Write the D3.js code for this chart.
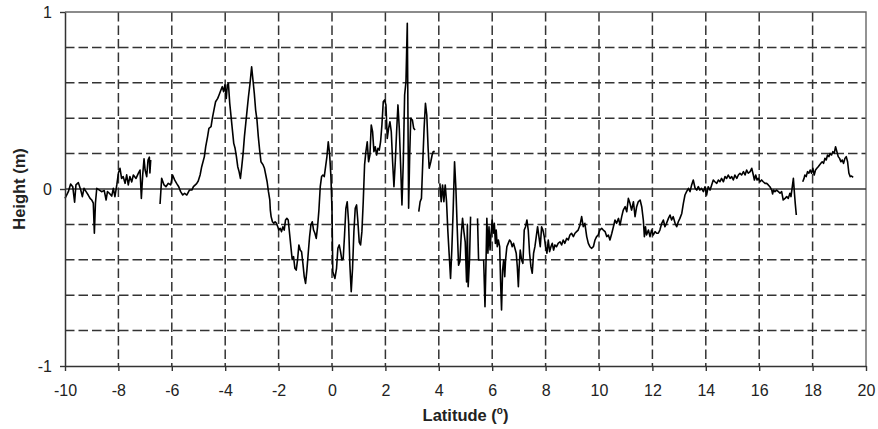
<!DOCTYPE html>
<html><head><meta charset="utf-8">
<script src="https://cdn.jsdelivr.net/npm/d3@7"></script>
<style>
body{margin:0;background:#fff;}
svg{display:block;}
text{font-family:Arial,"Liberation Sans",sans-serif;}
</style>
</head><body>
<svg id="chart" width="878" height="429"></svg>
<script>
// ---- data: [latitude (deg), height (m)] per continuous segment ----
const segA = [[-10.00,-0.053],[-9.875,-0.015],[-9.79,0.028],[-9.71,0.013],[-9.64,-0.075],[-9.59,0.023],[-9.50,0.036],[-9.41,-0.006],[-9.35,-0.043],[-9.29,0.004],[-9.21,-0.015],[-9.13,-0.034],[-9.06,-0.053],[-9.00,-0.062],[-8.94,-0.08],[-8.90,-0.25],[-8.86,-0.08],[-8.81,0.004],[-8.71,-0.006],[-8.63,-0.015],[-8.53,-0.009],[-8.46,-0.062],[-8.41,-0.015],[-8.34,-0.024],[-8.25,-0.04],[-8.19,0.004],[-8.13,-0.043],[-8.06,0.023],[-8.00,0.09],[-7.94,0.117],[-7.88,0.06],[-7.82,0.07],[-7.75,0.032],[-7.69,0.08],[-7.63,0.023],[-7.57,0.07],[-7.50,0.04],[-7.44,0.079],[-7.34,0.06],[-7.25,0.09],[-7.19,0.107],[-7.14,-0.053],[-7.09,0.079],[-7.04,0.17],[-7.00,0.107],[-6.94,0.07],[-6.89,0.164],[-6.84,0.18],[-6.82,0.09],[-6.79,0.164]];

const segB = [[-6.44,-0.085],[-6.38,0.06],[-6.29,0.023],[-6.22,0.013],[-6.13,0.032],[-6.04,0.023],[-5.97,0.079],[-5.89,0.05],[-5.82,0.032],[-5.74,0.013],[-5.67,-0.015],[-5.59,-0.034],[-5.52,-0.024],[-5.44,-0.034],[-5.34,-0.006],[-5.25,-0.006],[-5.19,0.013],[-5.07,0.03],[-5.01,0.045],[-4.94,0.079],[-4.88,0.126],[-4.78,0.183],[-4.73,0.239],[-4.66,0.296],[-4.61,0.343],[-4.53,0.352],[-4.48,0.40],[-4.41,0.456],[-4.36,0.493],[-4.28,0.512],[-4.23,0.531],[-4.16,0.559],[-4.11,0.578],[-4.06,0.55],[-4.01,0.588],[-3.96,0.512],[-3.92,0.588],[-3.88,0.597],[-3.83,0.484],[-3.78,0.409],[-3.73,0.333],[-3.68,0.258],[-3.63,0.23],[-3.58,0.183],[-3.53,0.126],[-3.48,0.098],[-3.43,0.06],[-3.38,0.126],[-3.33,0.20],[-3.28,0.296],[-3.23,0.371],[-3.18,0.446],[-3.13,0.52],[-3.07,0.597],[-3.01,0.69],[-2.96,0.616],[-2.91,0.54],[-2.86,0.446],[-2.81,0.39],[-2.76,0.296],[-2.71,0.22],[-2.66,0.154],[-2.58,0.136],[-2.53,0.117],[-2.48,0.079],[-2.43,0.041],[-2.38,-0.015],[-2.33,-0.062],[-2.31,-0.119],[-2.28,-0.156],[-2.23,-0.185],[-2.18,-0.194],[-2.13,-0.185],[-2.08,-0.194],[-2.03,-0.213],[-1.99,-0.232],[-1.94,-0.222],[-1.89,-0.241],[-1.84,-0.213],[-1.79,-0.232],[-1.74,-0.175],[-1.69,-0.166],[-1.64,-0.175],[-1.59,-0.25],[-1.54,-0.326],[-1.49,-0.40],[-1.44,-0.382],[-1.39,-0.448],[-1.34,-0.458],[-1.29,-0.40],[-1.24,-0.316],[-1.19,-0.345],[-1.14,-0.354],[-1.09,-0.42],[-1.04,-0.495],[-0.99,-0.533],[-0.94,-0.458],[-0.89,-0.363],[-0.84,-0.27],[-0.79,-0.203],[-0.74,-0.185],[-0.69,-0.232],[-0.64,-0.25],[-0.59,-0.279],[-0.54,-0.213],[-0.49,-0.119],[-0.44,0.013],[-0.39,0.07],[-0.34,0.079],[-0.29,0.07],[-0.24,0.126],[-0.19,0.183],[-0.14,0.267],[-0.09,0.20],[-0.04,0.07],[0.00,-0.12],[0.03,-0.467],[0.11,-0.505],[0.17,-0.448],[0.22,-0.335],[0.27,-0.316],[0.32,-0.354],[0.37,-0.401],[0.42,-0.392],[0.47,-0.26],[0.52,-0.109],[0.57,-0.072],[0.62,-0.185],[0.67,-0.43],[0.72,-0.58],[0.77,-0.448],[0.82,-0.241],[0.87,-0.109],[0.92,-0.09],[0.97,-0.185],[1.02,-0.30],[1.07,-0.316],[1.12,-0.241],[1.17,-0.072],[1.22,0.136],[1.27,0.211],[1.32,0.267],[1.37,0.154],[1.42,0.192],[1.47,0.362],[1.52,0.324],[1.57,0.211],[1.62,0.239],[1.67,0.192],[1.72,0.23],[1.77,0.22],[1.82,0.267],[1.87,0.362],[1.92,0.493],[1.97,0.503],[2.02,0.475],[2.07,0.286],[2.12,0.343],[2.17,0.38],[2.22,0.324],[2.27,0.154],[2.32,0.013],[2.37,0.154],[2.42,0.324],[2.47,0.475],[2.52,0.343],[2.57,0.136],[2.62,-0.09],[2.67,0.154],[2.72,0.531],[2.77,0.606],[2.82,0.936],[2.87,-0.109],[2.91,0.192],[2.95,0.40],[3.01,0.39],[3.06,0.343],[3.11,0.333]];

const segC = [[3.25,-0.128],[3.30,-0.072],[3.35,-0.053],[3.40,0.154],[3.45,0.343],[3.50,0.484],[3.55,0.418],[3.60,0.23],[3.64,0.117],[3.70,0.154],[3.75,0.192],[3.79,0.211],[3.85,0.211]];

const segD = [[4.04,0.032],[4.09,-0.072],[4.14,0.023],[4.19,-0.072],[4.24,0.023],[4.29,-0.072],[4.34,-0.241],[4.39,-0.373],[4.44,-0.505],[4.49,-0.335],[4.54,-0.109],[4.59,0.154],[4.64,0.004],[4.69,-0.222],[4.74,-0.43],[4.79,-0.41],[4.84,-0.26],[4.89,-0.166],[4.94,-0.241],[4.99,-0.30],[5.04,-0.525],[5.07,-0.20],[5.10,-0.552],[5.15,-0.401],[5.19,-0.156]];

const segE = [[5.45,-0.166],[5.49,-0.401],[5.68,-0.401],[5.73,-0.665],[5.77,-0.401],[5.80,-0.166],[5.84,-0.363],[5.88,-0.213],[5.92,-0.345],[5.95,-0.269],[6.00,-0.175],[6.04,-0.25],[6.08,-0.194],[6.12,-0.307],[6.15,-0.232],[6.19,-0.326],[6.23,-0.288],[6.28,-0.326],[6.32,-0.552],[6.35,-0.684],[6.39,-0.458],[6.43,-0.401],[6.47,-0.495],[6.50,-0.401],[6.55,-0.326],[6.60,-0.307],[6.65,-0.288],[6.70,-0.298],[6.75,-0.326],[6.80,-0.307],[6.85,-0.335],[6.90,-0.363],[6.94,-0.439],[6.98,-0.552],[7.01,-0.439],[7.05,-0.345],[7.10,-0.401],[7.15,-0.42],[7.20,-0.232],[7.25,-0.213],[7.30,-0.175],[7.35,-0.232],[7.40,-0.363],[7.45,-0.439],[7.50,-0.476],[7.55,-0.363],[7.60,-0.326],[7.65,-0.269],[7.70,-0.213],[7.75,-0.269],[7.80,-0.326],[7.85,-0.213],[7.90,-0.232],[7.95,-0.269],[8.00,-0.326],[8.05,-0.363],[8.10,-0.288],[8.15,-0.354],[8.20,-0.326],[8.25,-0.307],[8.30,-0.345],[8.35,-0.316],[8.41,-0.326],[8.47,-0.307],[8.54,-0.298],[8.60,-0.316],[8.66,-0.288],[8.72,-0.307],[8.79,-0.279],[8.85,-0.288],[8.91,-0.26],[8.97,-0.25],[9.04,-0.269],[9.10,-0.25],[9.16,-0.241],[9.22,-0.232],[9.29,-0.203],[9.35,-0.156],[9.41,-0.213],[9.47,-0.194],[9.54,-0.269],[9.60,-0.307],[9.66,-0.326],[9.72,-0.335],[9.79,-0.326],[9.85,-0.288],[9.91,-0.269],[9.97,-0.26],[10.03,-0.232],[10.10,-0.222],[10.16,-0.232],[10.23,-0.241],[10.29,-0.269],[10.35,-0.26],[10.41,-0.288],[10.48,-0.25],[10.54,-0.213],[10.60,-0.175],[10.66,-0.194],[10.73,-0.166],[10.79,-0.203],[10.85,-0.156],[10.91,-0.119],[10.98,-0.10],[11.04,-0.128],[11.10,-0.053],[11.16,-0.081],[11.22,-0.119],[11.29,-0.072],[11.35,-0.156],[11.41,-0.10],[11.47,-0.072],[11.54,-0.062],[11.60,-0.10],[11.66,-0.175],[11.70,-0.269],[11.74,-0.213],[11.78,-0.26],[11.85,-0.232],[11.91,-0.269],[11.97,-0.232],[12.03,-0.26],[12.10,-0.241],[12.16,-0.25],[12.22,-0.25],[12.28,-0.232],[12.35,-0.194],[12.41,-0.175],[12.47,-0.213],[12.53,-0.194],[12.60,-0.166],[12.66,-0.147],[12.72,-0.175],[12.78,-0.156],[12.85,-0.194],[12.91,-0.213],[12.97,-0.185],[13.03,-0.166],[13.10,-0.138],[13.16,-0.081],[13.22,-0.034],[13.28,-0.015],[13.35,0.004],[13.41,-0.015],[13.47,0.023],[13.53,0.051],[13.60,0.004],[13.66,-0.006],[13.72,0.013],[13.78,-0.006],[13.84,0.004],[13.91,-0.015],[13.97,0.013],[14.03,-0.034],[14.09,0.013],[14.16,-0.006],[14.22,0.023],[14.28,0.051],[14.34,0.041],[14.41,0.032],[14.47,0.051],[14.53,0.041],[14.59,0.06],[14.66,0.041],[14.72,0.07],[14.78,0.06],[14.84,0.079],[14.91,0.06],[14.97,0.07],[15.03,0.051],[15.09,0.079],[15.16,0.06],[15.22,0.079],[15.28,0.089],[15.34,0.079],[15.41,0.098],[15.47,0.079],[15.53,0.107],[15.59,0.089],[15.66,0.098],[15.72,0.117],[15.78,0.079],[15.82,0.051],[15.87,0.079],[15.92,0.051],[15.97,0.06],[16.03,0.041],[16.09,0.051],[16.15,0.041],[16.22,0.032],[16.28,0.032],[16.34,0.023],[16.40,0.013],[16.47,-0.006],[16.50,-0.028],[16.54,-0.006],[16.59,-0.015],[16.65,-0.006],[16.72,-0.015],[16.78,-0.024],[16.84,-0.015],[16.90,-0.062],[16.97,-0.053],[17.03,-0.043],[17.09,-0.053],[17.15,-0.024],[17.19,-0.043],[17.24,0.013],[17.28,0.06],[17.32,-0.024],[17.35,-0.081],[17.39,-0.147]];

const segF = [[17.63,0.041],[17.68,0.06],[17.71,0.079],[17.76,0.07],[17.81,0.098],[17.86,0.089],[17.91,0.107],[17.96,0.089],[18.01,0.117],[18.06,0.079],[18.11,0.107],[18.16,0.117],[18.21,0.126],[18.26,0.136],[18.31,0.145],[18.36,0.154],[18.41,0.145],[18.46,0.173],[18.51,0.164],[18.56,0.192],[18.61,0.183],[18.66,0.201],[18.71,0.192],[18.76,0.211],[18.81,0.201],[18.86,0.239],[18.91,0.211],[18.96,0.183],[19.01,0.173],[19.06,0.154],[19.11,0.164],[19.16,0.145],[19.21,0.173],[19.26,0.183],[19.31,0.154],[19.36,0.089],[19.41,0.07],[19.46,0.073],[19.52,0.066]];

const segments = [segA, segB, segC, segD, segE, segF];

const xTickValues = [-10,-8,-6,-4,-2,0,2,4,6,8,10,12,14,16,18,20];
const xGridValues = [-8,-6,-4,-2,0,2,4,6,8,10,12,14,16,18];
const yTickValues = [-1,0,1];
const yGridValues = [-0.8,-0.6,-0.4,-0.2,0.2,0.4,0.6,0.8];
const xTitle = "Latitude (";
const yTitle = "Height (m)";

// ---- drawing ----
const svg = d3.select("#chart");
const x = d3.scaleLinear().domain([-10,20]).range([65,866]);
const y = d3.scaleLinear().domain([-1,1]).range([366,12]);

const grid = svg.append("g");
grid.selectAll("line.h").data(yGridValues).join("line")
  .attr("x1", x(-10)).attr("x2", x(20))
  .attr("y1", d => y(d)).attr("y2", d => y(d))
  .attr("stroke", "#333").attr("stroke-width", 1.5)
  .attr("stroke-dasharray", "9.5,4");
grid.selectAll("line.v").data(xGridValues).join("line")
  .attr("x1", d => x(d)).attr("x2", d => x(d))
  .attr("y1", y(1)).attr("y2", y(-1))
  .attr("stroke", "#333").attr("stroke-width", 1.5)
  .attr("stroke-dasharray", "9.5,4");

// plot border (top, right)
svg.append("path")
  .attr("d", `M${x(-10)},${y(1)}H${x(20)}V${y(-1)}`)
  .attr("fill", "none").attr("stroke", "#666").attr("stroke-width", 1.4);

// zero line
svg.append("line")
  .attr("x1", x(-10)).attr("x2", x(20)).attr("y1", y(0)).attr("y2", y(0))
  .attr("stroke", "#333").attr("stroke-width", 1.3);

// data line
const line = d3.line().x(d => x(d[0])).y(d => y(d[1]));
svg.append("g").selectAll("path").data(segments).join("path")
  .attr("d", line)
  .attr("fill", "none").attr("stroke", "#000").attr("stroke-width", 1.6)
  .attr("stroke-linejoin", "round");

// axes
const xAxis = svg.append("g").attr("transform", `translate(0,${y(-1)})`)
  .call(d3.axisBottom(x).tickValues(xTickValues).tickSize(5).tickSizeOuter(0).tickPadding(14).tickFormat(d3.format("d")));
const yAxis = svg.append("g").attr("transform", `translate(${x(-10)},0)`)
  .call(d3.axisLeft(y).tickValues(yTickValues).tickSize(5).tickSizeOuter(0).tickPadding(8).tickFormat(d3.format("d")));
[xAxis, yAxis].forEach(g => {
  g.select(".domain").attr("stroke", "#333").attr("stroke-width", 1.5);
  g.selectAll(".tick line").attr("stroke", "#333").attr("stroke-width", 1.4);
  g.selectAll(".tick text").attr("fill", "#222").attr("font-size", 16)
    .attr("font-family", "Arial, 'Liberation Sans', sans-serif");
});
xAxis.selectAll(".tick text").text(d => d < 0 ? "-" + Math.abs(d) : String(d));
yAxis.selectAll(".tick text").text(d => d < 0 ? "-" + Math.abs(d) : String(d));

// titles
const xt = svg.append("text")
  .attr("x", (x(-10) + x(20)) / 2).attr("y", 421)
  .attr("text-anchor", "middle").attr("font-weight", "bold")
  .attr("font-size", 16.5).attr("fill", "#222");
xt.append("tspan").text(xTitle);
xt.append("tspan").attr("font-size", 10).attr("dy", -7).text("o");
xt.append("tspan").attr("dy", 7).text(")");

svg.append("text")
  .attr("transform", `translate(25,${y(0)}) rotate(-90)`)
  .attr("text-anchor", "middle").attr("font-weight", "bold")
  .attr("font-size", 16.5).attr("fill", "#222")
  .text(yTitle);
</script>
</body></html>
